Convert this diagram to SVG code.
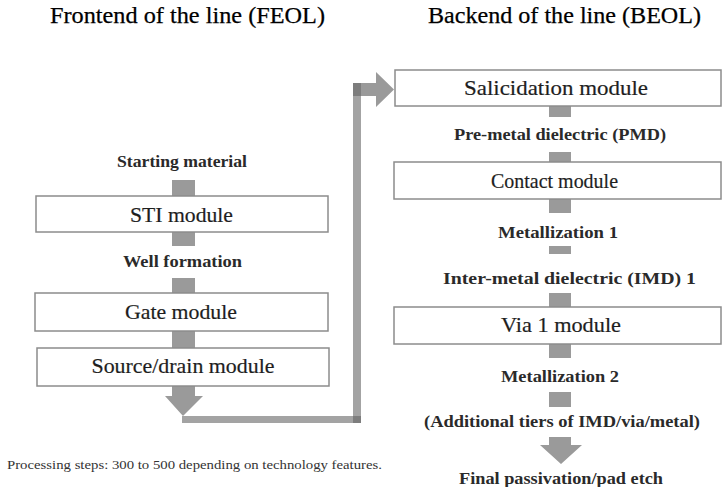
<svg xmlns="http://www.w3.org/2000/svg" width="722" height="487" viewBox="0 0 722 487">
<style>
text{font-family:"Liberation Serif","Times New Roman",serif;fill:#1a1a1a;text-anchor:middle}
.title{font-size:24px;fill:#000;stroke:#000;stroke-width:0.25}
.box{fill:#fff;stroke:#8c8c8c;stroke-width:1.5}
.bt{font-size:22px;fill:#1e1e1e;stroke:#1e1e1e;stroke-width:0.2}
.lbl{font-size:16px;font-weight:bold;fill:#2a2a2a}
.bar{fill:#9a9a9a}
.line{fill:#a3a3a3}
.note{font-size:12.5px;fill:#333;text-anchor:start}
</style>
<rect width="722" height="487" fill="#fff"/>
<text class="title" x="187.5" y="23" textLength="275" lengthAdjust="spacingAndGlyphs">Frontend of the line (FEOL)</text>
<text class="title" x="564.5" y="23" textLength="273" lengthAdjust="spacingAndGlyphs">Backend of the line (BEOL)</text>

<g id="connectors">
  <rect class="bar" x="172" y="180" width="23" height="16"/>
  <rect class="bar" x="172" y="232" width="23" height="14"/>
  <rect class="bar" x="172" y="278" width="23" height="15"/>
  <rect class="bar" x="172" y="331" width="23" height="17"/>
  <path class="bar" d="M172 386 H195 V396 H203 L183 416 L165 396 H172 Z"/>
  <rect class="line" x="182" y="416" width="179" height="7"/>
  <rect class="line" x="353" y="83" width="8" height="340"/>
  <rect fill="#7d7d7d" x="353" y="416" width="8" height="7"/>
  <rect fill="#7d7d7d" x="353" y="83" width="8" height="13"/>
  <path class="bar" d="M361 83 H376 V72 L394 89.5 L376 107 V96 H361 Z"/>
  <rect class="bar" x="549" y="106" width="22" height="11"/>
  <rect class="bar" x="549" y="152" width="22" height="10"/>
  <rect class="bar" x="549" y="199" width="22" height="14"/>
  <rect class="bar" x="549" y="246" width="22" height="8"/>
  <rect class="bar" x="549" y="293" width="22" height="14"/>
  <rect class="bar" x="549" y="344" width="22" height="14"/>
  <rect class="bar" x="549" y="392" width="22" height="15"/>
  <path class="bar" d="M549 437 H571 V445 H582 L561 464 L540 445 H549 Z"/>
</g>

<g id="starting"><text class="lbl" x="182" y="167" textLength="130" lengthAdjust="spacingAndGlyphs">Starting material</text></g>
<g id="sti"><rect class="box" x="36" y="196" width="292" height="36"/><text class="bt" x="181.5" y="222" textLength="103" lengthAdjust="spacingAndGlyphs">STI module</text></g>
<g id="well"><text class="lbl" x="182.5" y="267" textLength="119" lengthAdjust="spacingAndGlyphs">Well formation</text></g>
<g id="gate"><rect class="box" x="35" y="293" width="293" height="38"/><text class="bt" x="181" y="319" textLength="112" lengthAdjust="spacingAndGlyphs">Gate module</text></g>
<g id="sourcedrain"><rect class="box" x="37" y="348" width="292" height="38"/><text class="bt" x="183" y="373" textLength="183" lengthAdjust="spacingAndGlyphs">Source/drain module</text></g>

<g id="salicidation"><rect class="box" x="395" y="70" width="326" height="36"/><text class="bt" x="556" y="95" textLength="184" lengthAdjust="spacingAndGlyphs">Salicidation module</text></g>
<g id="pmd"><text class="lbl" x="560" y="140" textLength="212" lengthAdjust="spacingAndGlyphs">Pre-metal dielectric (PMD)</text></g>
<g id="contact"><rect class="box" x="394" y="162" width="327" height="37"/><text class="bt" x="554.5" y="188" textLength="127" lengthAdjust="spacingAndGlyphs">Contact module</text></g>
<g id="met1"><text class="lbl" x="558" y="238" textLength="120" lengthAdjust="spacingAndGlyphs">Metallization 1</text></g>
<g id="imd1"><text class="lbl" x="569.5" y="284" textLength="253" lengthAdjust="spacingAndGlyphs">Inter-metal dielectric (IMD) 1</text></g>
<g id="via1"><rect class="box" x="394" y="307" width="327" height="37"/><text class="bt" x="561" y="332" textLength="120" lengthAdjust="spacingAndGlyphs">Via 1 module</text></g>
<g id="met2"><text class="lbl" x="560" y="382" textLength="118" lengthAdjust="spacingAndGlyphs">Metallization 2</text></g>
<g id="tiers"><text class="lbl" x="562" y="427" textLength="276" lengthAdjust="spacingAndGlyphs">(Additional tiers of IMD/via/metal)</text></g>
<g id="final"><text class="lbl" x="561" y="484" textLength="204" lengthAdjust="spacingAndGlyphs">Final passivation/pad etch</text></g>

<text class="note" x="7" y="469" textLength="375" lengthAdjust="spacingAndGlyphs">Processing steps:  300 to 500 depending on technology features.</text>
</svg>
